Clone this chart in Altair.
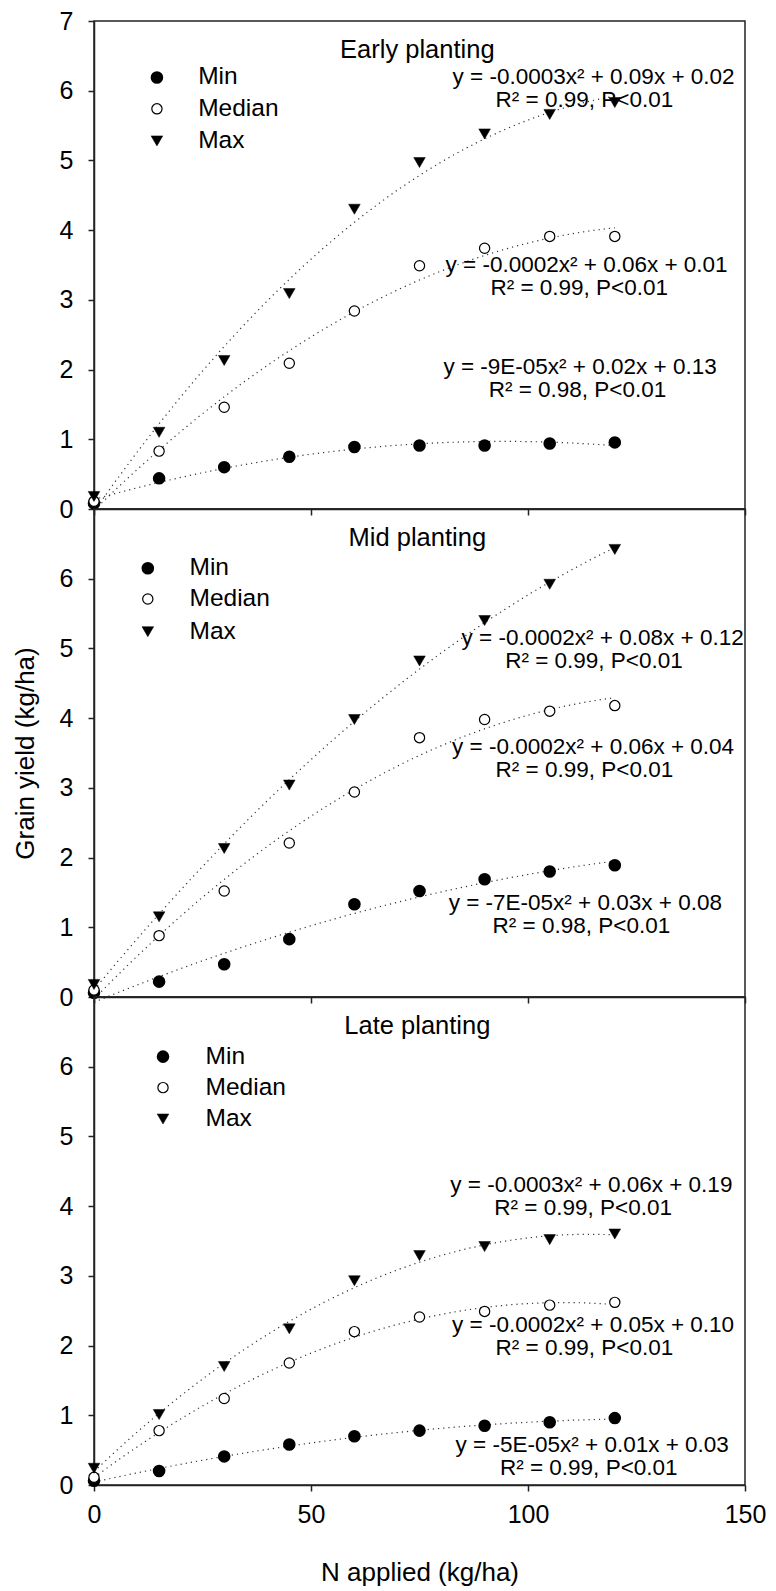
import altair as alt
import pandas as pd

FONT = "Liberation Sans"

N_APPLIED = [0, 15, 30, 45, 60, 75, 90, 105, 120]
SERIES = ["Min", "Median", "Max"]
PANELS = ["Early planting", "Mid planting", "Late planting"]

EARLY_MIN = [0.08, 0.44, 0.60, 0.75, 0.89, 0.91, 0.91, 0.94, 0.955]
EARLY_MEDIAN = [0.11, 0.83, 1.46, 2.09, 2.84, 3.49, 3.74, 3.91, 3.91]
EARLY_MAX = [0.18, 1.10, 2.13, 3.09, 4.30, 4.97, 5.38, 5.66, 5.83]

MID_MIN = [0.06, 0.22, 0.47, 0.83, 1.33, 1.52, 1.69, 1.80, 1.89]
MID_MEDIAN = [0.10, 0.88, 1.52, 2.21, 2.94, 3.72, 3.98, 4.10, 4.18]
MID_MAX = [0.18, 1.15, 2.13, 3.04, 3.98, 4.82, 5.40, 5.92, 6.42]

LATE_MIN = [0.06, 0.20, 0.41, 0.58, 0.70, 0.78, 0.85, 0.90, 0.96]
LATE_MEDIAN = [0.11, 0.78, 1.24, 1.75, 2.20, 2.41, 2.49, 2.58, 2.62]
LATE_MAX = [0.24, 1.01, 1.70, 2.24, 2.93, 3.29, 3.42, 3.52, 3.60]

VALUES = {
    "Early planting": [EARLY_MIN, EARLY_MEDIAN, EARLY_MAX],
    "Mid planting": [MID_MIN, MID_MEDIAN, MID_MAX],
    "Late planting": [LATE_MIN, LATE_MEDIAN, LATE_MAX],
}

# fitted-equation labels (order: Min, Median, Max)
EQUATIONS = {
    "Early planting": ["y = -9E-05x² + 0.02x + 0.13", "y = -0.0002x² + 0.06x + 0.01", "y = -0.0003x² + 0.09x + 0.02"],
    "Mid planting": ["y = -7E-05x² + 0.03x + 0.08", "y = -0.0002x² + 0.06x + 0.04", "y = -0.0002x² + 0.08x + 0.12"],
    "Late planting": ["y = -5E-05x² + 0.01x + 0.03", "y = -0.0002x² + 0.05x + 0.10", "y = -0.0003x² + 0.06x + 0.19"],
}
STATS = {
    "Early planting": ["R² = 0.98, P<0.01", "R² = 0.99, P<0.01", "R² = 0.99, P<0.01"],
    "Mid planting": ["R² = 0.98, P<0.01", "R² = 0.99, P<0.01", "R² = 0.99, P<0.01"],
    "Late planting": ["R² = 0.99, P<0.01", "R² = 0.99, P<0.01", "R² = 0.99, P<0.01"],
}

# annotation anchors in data units: (eq_x, eq_y, stat_x, stat_y)
EQ_POS = {
    "Early planting": [(112.0, 2.03, 111.4, 1.70), (113.5, 3.505, 111.8, 3.175), (115.1, 6.19, 113.0, 5.86)],
    "Mid planting": [(113.2, 1.35, 112.3, 1.02), (115.0, 3.59, 113.0, 3.26), (117.2, 5.155, 115.2, 4.825)],
    "Late planting": [(114.8, 0.58, 114.0, 0.25), (115.0, 2.29, 113.0, 1.96), (114.6, 4.30, 112.7, 3.97)],
}
# legend anchors: symbol x, label x, row y values
LEGEND_POS = {
    "Early planting": (14.5, 24.0, [6.19, 5.74, 5.28]),
    "Mid planting": (12.4, 22.0, [6.15, 5.71, 5.24]),
    "Late planting": (15.9, 25.7, [6.145, 5.70, 5.25]),
}
TITLE_POS = (74.5, 6.59)

INK = "#222222"
PANEL_W = 651
PANEL_H = 488


def panel(name, idx):
    mins, meds, maxs = VALUES[name]
    df = pd.DataFrame({
        "x": N_APPLIED * 3,
        "y": mins + meds + maxs,
        "series": [s for s in SERIES for _ in N_APPLIED],
    })
    last = idx == 2
    xaxis = alt.Axis(
        values=[0, 50, 100, 150],
        labels=last,
        title="N applied (kg/ha)" if last else None,
        labelFontSize=25, titleFontSize=26, labelPadding=11, titlePadding=32,
        tickSize=6, labelFlush=False, grid=False,
        labelFont=FONT, titleFont=FONT, titleFontWeight="normal",
        labelColor="black", titleColor="black",
    )
    yvals = list(range(0, 8)) if idx == 0 else list(range(0, 7))
    yaxis = alt.Axis(
        values=yvals,
        title="Grain yield (kg/ha)" if idx == 1 else None,
        labelFontSize=25, titleFontSize=26, labelPadding=15, titlePadding=21,
        tickSize=6, grid=False, labelFont=FONT, titleFont=FONT,
        titleFontWeight="normal", labelColor="black", titleColor="black",
    )
    xs = alt.Scale(domain=[0, 150], nice=False)
    ys = alt.Scale(domain=[0, 7], nice=False)
    X = alt.X("x:Q", scale=xs, axis=xaxis)
    Y = alt.Y("y:Q", scale=ys, axis=yaxis)

    base = alt.Chart(df)
    lines = base.transform_regression(
        "x", "y", method="poly", order=2, groupby=["series"], extent=[0, 120]
    ).mark_line(strokeDash=[1.2, 4], strokeWidth=1.2, color="#333333").encode(
        x=X, y=Y, detail="series:N"
    )
    p_min = base.transform_filter(alt.datum.series == "Min").mark_point(
        shape="circle", filled=True, fill="black", stroke="black", size=112, opacity=1
    ).encode(x=X, y=Y)
    p_med = base.transform_filter(alt.datum.series == "Median").mark_point(
        shape="circle", filled=True, fill="white", stroke="black", strokeWidth=1.2,
        size=105, opacity=1
    ).encode(x=X, y=Y)
    p_max = base.transform_filter(alt.datum.series == "Max").mark_point(
        shape="triangle-down", filled=True, fill="black", stroke="black", strokeWidth=0.5,
        size=135, opacity=1
    ).encode(x=X, y=Y)

    # equation annotations
    ann_rows = []
    for k in range(3):
        ex, ey, sx, sy = EQ_POS[name][k]
        ann_rows.append({"x": ex, "y": ey, "t": EQUATIONS[name][k]})
        ann_rows.append({"x": sx, "y": sy, "t": STATS[name][k]})
    ann = alt.Chart(pd.DataFrame(ann_rows)).mark_text(
        align="center", baseline="middle", fontSize=22.5, font=FONT, color="black"
    ).encode(x=X, y=Y, text="t:N")

    # panel title
    ttl = alt.Chart(pd.DataFrame({"x": [TITLE_POS[0]], "y": [TITLE_POS[1]], "t": [name]})).mark_text(
        align="center", baseline="middle", fontSize=25.5, font=FONT, color="black"
    ).encode(x=X, y=Y, text="t:N")

    # legend
    sx, lx, ly = LEGEND_POS[name]
    leg = pd.DataFrame({"series": SERIES, "sx": [sx] * 3, "lx": [lx] * 3, "y": ly})
    lb = alt.Chart(leg)
    LY = alt.Y("y:Q", scale=ys, axis=yaxis)
    SX = alt.X("sx:Q", scale=xs, axis=xaxis)
    l_min = lb.transform_filter(alt.datum.series == "Min").mark_point(
        shape="circle", filled=True, fill="black", stroke="black", size=112, opacity=1
    ).encode(x=SX, y=LY)
    l_med = lb.transform_filter(alt.datum.series == "Median").mark_point(
        shape="circle", filled=True, fill="white", stroke="black", strokeWidth=1.2, size=105, opacity=1
    ).encode(x=SX, y=LY)
    l_max = lb.transform_filter(alt.datum.series == "Max").mark_point(
        shape="triangle-down", filled=True, fill="black", stroke="black", strokeWidth=0.5, size=135, opacity=1
    ).encode(x=SX, y=LY)
    l_txt = lb.mark_text(
        align="left", baseline="middle", fontSize=24.5, font=FONT, color="black"
    ).encode(x=alt.X("lx:Q", scale=xs, axis=xaxis), y=LY, text="series:N")

    return alt.layer(
        lines, p_min, p_med, p_max, ann, ttl, l_min, l_med, l_max, l_txt
    ).properties(width=PANEL_W, height=PANEL_H)


chart = alt.vconcat(
    *[panel(n, i) for i, n in enumerate(PANELS)], spacing=0, bounds="flush"
).properties(
    padding={"left": 3, "top": 0, "right": 0, "bottom": 0}
).configure(
    font=FONT
).configure_view(
    stroke=INK, strokeWidth=1.5
).configure_axis(
    domainColor=INK, domainWidth=1.5, tickColor=INK, tickWidth=1.5
)

chart.save("out.html", embed_options={"renderer": "svg", "actions": False})
